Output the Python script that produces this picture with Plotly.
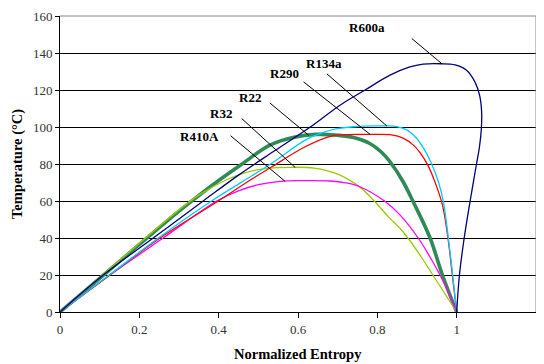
import numpy as np
import plotly.graph_objects as go

# ---------------- data ----------------
names = ["R22", "R32", "R410A", "R290", "R134a", "R600a"]

r600a_s = [0, 0.109, 0.235, 0.361, 0.45, 0.54, 0.631, 0.706, 0.769, 0.832, 0.88, 0.915, 0.96, 0.996,
           1.025, 1.046, 1.058, 1.063, 1.062, 1.057, 1.05, 1.034, 1.019, 1.007, 1.0]
r600a_t = [0, 20, 40, 60, 74, 87, 100, 111.8, 120, 128, 132.3, 134, 134.2, 133.6,
           130.7, 124.4, 117, 108, 98.3, 88.5, 80, 60, 40, 20, 0]

r134a_s = [0, 0.124, 0.248, 0.382, 0.46, 0.534, 0.618, 0.66, 0.702, 0.75, 0.787, 0.82, 0.849,
           0.875, 0.899, 0.918, 0.935, 0.954, 0.967, 0.979, 0.990, 1.0]
r134a_t = [0, 20, 40, 60, 70.5, 80.4, 92.9, 96.8, 99.2, 100.3, 100.6, 100.6, 100.2,
           98.3, 93.9, 88, 81, 70.4, 59, 40, 20, 0]

r290_s = [0, 0.126, 0.252, 0.399, 0.47, 0.534, 0.618, 0.677, 0.718, 0.781, 0.836, 0.865,
          0.891, 0.91, 0.927, 0.945, 0.964, 0.978, 0.989, 1.0]
r290_t = [0, 20, 40, 60, 70, 78.5, 89.3, 94.7, 95.9, 96, 95.8, 94,
          90.2, 85.5, 79.5, 70.4, 58, 40, 20, 0]

r22_s = [0, 0.1, 0.2, 0.3, 0.335, 0.395, 0.459, 0.529, 0.59, 0.645, 0.7, 0.74, 0.781, 0.81,
         0.832, 0.865, 0.891, 0.933, 0.964, 1.0]
r22_t = [0, 18.2, 36.5, 54.5, 60.5, 70.3, 80, 90.2, 94.5, 96, 95.5, 94.3, 91.1, 86.5,
         81.2, 70.4, 59.3, 40, 20, 0]

r32_s = [0, 0.1, 0.2, 0.3, 0.35, 0.42, 0.47, 0.52, 0.58, 0.64, 0.7, 0.756, 0.792, 0.83,
         0.857, 0.877, 0.91, 0.94, 0.97, 1.0]
r32_t = [0, 18.6, 37.2, 55.2, 63.2, 71.5, 75.5, 77.6, 78.2, 77.8, 74.5, 67.5, 60, 51,
         45.3, 40, 30, 20, 10, 0]

r410a_s = [0, 0.126, 0.26, 0.395, 0.45, 0.5, 0.555, 0.61, 0.68, 0.72, 0.756, 0.818, 0.857,
           0.903, 0.932, 0.958, 0.98, 1.0]
r410a_t = [0, 20, 40, 60, 65.5, 68.8, 70.6, 71, 70.8, 69.8, 67.7, 60, 52.5,
           40, 30, 20, 10, 0]

x_ticks = [0, 0.2, 0.4, 0.6, 0.8, 1, 1.2]
x_tick_text = ["0", "0.2", "0.4", "0.6", "0.8", "1", "1.2"]
y_ticks = [0, 20, 40, 60, 80, 100, 120, 140, 160]

# ---------------- styles ----------------
series = {
    "R22": (r22_s, r22_t, "#2E8B57", 3.6),
    "R32": (r32_s, r32_t, "#99CC00", 1.3),
    "R410A": (r410a_s, r410a_t, "#FF00FF", 1.3),
    "R290": (r290_s, r290_t, "#FF0000", 1.3),
    "R134a": (r134a_s, r134a_t, "#00CCFF", 1.3),
    "R600a": (r600a_s, r600a_t, "#000080", 1.3),
}

# label placement (text centre, leader-line start, leader-line end x on curve)
label_pos = {
    "R600a": (0.774, 153.7, 0.887, 147.8, 0.963),
    "R134a": (0.665, 134.3, 0.673, 128.7, 0.824),
    "R290": (0.567, 128.7, 0.614, 124.4, 0.782),
    "R22": (0.479, 116.0, 0.529, 113.0, 0.627),
    "R32": (0.406, 107.3, 0.458, 104.6, 0.593),
    "R410A": (0.351, 94.7, 0.430, 95.3, 0.567),
}

SERIF = "Liberation Serif"

fig = go.Figure()
for n in names:
    s, t, c, w = series[n]
    fig.add_trace(go.Scatter(x=s, y=t, mode="lines", name=n,
                             line=dict(color=c, width=w, shape="spline", smoothing=1.0),
                             showlegend=False, hoverinfo="skip"))


def on_curve(xs, ts, xq):
    xs = np.asarray(xs)
    k = int(np.argmax(xs))
    return float(np.interp(xq, xs[:k + 1], np.asarray(ts)[:k + 1]))


shapes = []
annotations = []
for n in ["R600a", "R134a", "R290", "R22", "R32", "R410A"]:
    lx, ly, sx, sy, tx = label_pos[n]
    s, t, c, w = series[n]
    ty = on_curve(s, t, tx)
    shapes.append(dict(type="line", xref="x", yref="y", x0=sx, y0=sy, x1=tx, y1=ty,
                       line=dict(color="black", width=1)))
    annotations.append(dict(x=lx, y=ly, xref="x", yref="y", text=n, showarrow=False,
                            xanchor="center", yanchor="middle",
                            font=dict(family=SERIF, size=13, color="black", weight="bold")))

# plot-area border (top & right) in grey
shapes.append(dict(type="line", xref="paper", yref="paper", x0=0, y0=1, x1=1, y1=1,
                   line=dict(color="#888888", width=1)))
shapes.append(dict(type="line", xref="paper", yref="paper", x0=1, y0=0, x1=1, y1=1,
                   line=dict(color="#888888", width=1)))

# axis titles
annotations.append(dict(x=0.5, y=0, xref="paper", yref="paper", yshift=-42,
                        text="Normalized Entropy", showarrow=False,
                        xanchor="center", yanchor="middle",
                        font=dict(family=SERIF, size=14.5, color="black", weight="bold")))
annotations.append(dict(x=0, y=0.5, xref="paper", yref="paper", xshift=-43,
                        text="Temperature (°C)", showarrow=False, textangle=-90,
                        xanchor="center", yanchor="middle",
                        font=dict(family=SERIF, size=14.5, color="black", weight="bold")))

# the page body has an 8px margin, so the figure is sized to fill the rest of the window
fig.update_layout(
    width=536, height=356,
    margin=dict(l=52, r=8, t=8, b=52, autoexpand=False),
    paper_bgcolor="white", plot_bgcolor="white",
    shapes=shapes, annotations=annotations,
    xaxis=dict(range=[0, 1.2], tickvals=x_ticks, ticktext=x_tick_text,
               showgrid=False, zeroline=False, automargin=False,
               showline=True, linecolor="black", linewidth=1,
               ticks="outside", ticklen=5, tickcolor="black", tickwidth=1,
               tickfont=dict(family=SERIF, size=13, color="#333333")),
    yaxis=dict(range=[0, 160], tickvals=y_ticks,
               showgrid=True, gridcolor="black", gridwidth=1, zeroline=False, automargin=False,
               showline=True, linecolor="black", linewidth=1,
               ticks="outside", ticklen=4, tickcolor="black", tickwidth=1,
               tickfont=dict(family=SERIF, size=13, color="#333333")),
)

fig.write_html("out.html")
